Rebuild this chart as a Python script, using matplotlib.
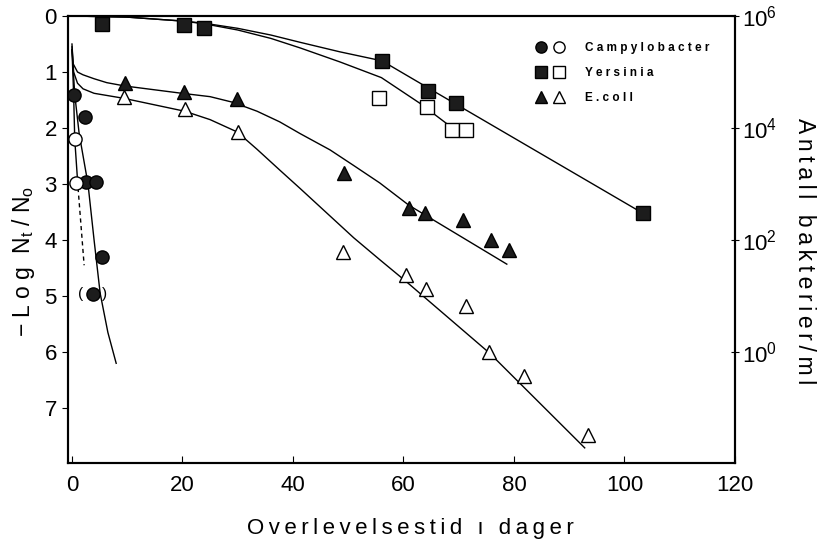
import matplotlib
matplotlib.use('Agg')
import matplotlib.pyplot as plt
from matplotlib.legend_handler import HandlerTuple

plt.rcParams['font.family'] = ['Liberation Sans', 'DejaVu Sans']
plt.rcParams['mathtext.fontset'] = 'custom'
plt.rcParams['mathtext.rm'] = 'Liberation Sans'
plt.rcParams['mathtext.it'] = 'Liberation Sans'

# values: x = days, y = -log Nt/N0
campy_fill_x = [0.4, 2.3, 2.5, 4.3, 5.4]
campy_fill_y = [1.41, 1.80, 2.96, 2.96, 4.30]
campy_paren_x = [3.8]
campy_paren_y = [4.97]
campy_open_x = [0.5, 0.7]
campy_open_y = [2.20, 2.98]
campy_fill_fit_x = [0, 0.5, 1.3, 2.9, 4.0, 5.1, 6.5, 8.0]
campy_fill_fit_y = [0.6, 1.4, 2.1, 3.0, 4.0, 4.95, 5.65, 6.2]
campy_open_fit_x = [0, 0.3, 0.5, 1.1]
campy_open_fit_y = [0.6, 1.4, 2.2, 3.07]
campy_dash_x = [1.1, 2.2]
campy_dash_y = [3.07, 4.45]

yers_fill_x = [5.4, 20.3, 23.9, 56.1, 64.4, 69.5, 103.3]
yers_fill_y = [0.14, 0.16, 0.21, 0.80, 1.34, 1.56, 3.52]
yers_open_x = [55.6, 64.3, 68.8, 71.3]
yers_open_y = [1.47, 1.62, 2.04, 2.04]
yers_fill_fit_x = [0, 10, 20, 24, 30, 36, 41.3, 48.5, 56.1, 64.4, 103.3]
yers_fill_fit_y = [0, 0.02, 0.09, 0.13, 0.22, 0.34, 0.47, 0.64, 0.80, 1.28, 3.52]
yers_open_fit_x = [0, 10, 20, 24, 30, 36, 41.3, 48.5, 56, 63, 67.8, 70.2]
yers_open_fit_y = [0, 0.02, 0.09, 0.14, 0.25, 0.40, 0.57, 0.82, 1.1, 1.56, 1.92, 2.0]

ecoli_fill_x = [9.6, 20.3, 29.9, 49.2, 61.0, 63.9, 70.8, 75.8, 79.1]
ecoli_fill_y = [1.19, 1.35, 1.49, 2.80, 3.42, 3.51, 3.64, 4.00, 4.17]
ecoli_open_x = [9.4, 20.4, 30.0, 49.1, 60.5, 64.1, 71.3, 75.5, 81.8, 93.4]
ecoli_open_y = [1.45, 1.66, 2.07, 4.22, 4.62, 4.88, 5.18, 6.00, 6.43, 7.48]
ecoli_fill_fit_x = [0, 0.2, 1, 2, 4, 6.3, 9.6, 19.5, 25, 29.1, 33.5, 37.6, 41.3,
                    46.7, 51, 55.7, 61, 78.7]
ecoli_fill_fit_y = [0.5, 0.85, 1.0, 1.05, 1.12, 1.19, 1.25, 1.375, 1.44, 1.54, 1.70,
                    1.89, 2.1, 2.39, 2.67, 2.98, 3.38, 4.43]
ecoli_open_fit_x = [0, 0.3, 1, 2, 4, 9.4, 20.4, 25, 29.9, 33.5, 37.6, 41.3, 46.7,
                    51, 55.7, 60.6, 75.6, 92.8]
ecoli_open_fit_y = [0.55, 1.0, 1.2, 1.3, 1.38, 1.47, 1.7, 1.85, 2.07, 2.38, 2.75,
                    3.08, 3.57, 3.96, 4.35, 4.75, 6.02, 7.71]

x_ticks = [0, 20, 40, 60, 80, 100, 120]
y_ticks = [0, 1, 2, 3, 4, 5, 6, 7]
right_exps = [6, 4, 2, 0]


def spaced(s, sep=' '):
    # the printed labels are letter-spaced
    return sep.join(s)


fig = plt.figure(figsize=(8.22, 5.44), dpi=100)
ax = fig.add_axes([68/822, 1-463/544, 667/822, 447/544])

lw = 1.0
k = 'black'
ax.plot(campy_fill_fit_x, campy_fill_fit_y, color=k, lw=lw)
ax.plot(campy_open_fit_x, campy_open_fit_y, color=k, lw=lw)
ax.plot(campy_dash_x, campy_dash_y, color=k, lw=lw, ls=(0, (3, 2.5)))
ax.plot(yers_fill_fit_x, yers_fill_fit_y, color=k, lw=lw)
ax.plot(yers_open_fit_x, yers_open_fit_y, color=k, lw=lw)
ax.plot(ecoli_fill_fit_x, ecoli_fill_fit_y, color=k, lw=lw)
ax.plot(ecoli_open_fit_x, ecoli_open_fit_y, color=k, lw=lw)

ms = 9.5
fill = dict(ls='none', color='#1c1c1c', mec=k, clip_on=False, zorder=3)
opn = dict(ls='none', mfc='white', mec=k, mew=1.0, clip_on=False, zorder=3)
h1, = ax.plot(campy_fill_x, campy_fill_y, 'o', ms=ms, **fill)
ax.plot(campy_paren_x, campy_paren_y, 'o', ms=ms, **fill)
h2, = ax.plot(campy_open_x, campy_open_y, 'o', ms=ms, **opn)
h3, = ax.plot(yers_fill_x, yers_fill_y, 's', ms=ms, **fill)
h4, = ax.plot(yers_open_x, yers_open_y, 's', ms=ms, **opn)
h5, = ax.plot(ecoli_fill_x, ecoli_fill_y, '^', ms=ms, **fill)
h6, = ax.plot(ecoli_open_x, ecoli_open_y, '^', ms=ms, **opn)

for px, py in zip(campy_paren_x, campy_paren_y):
    ax.annotate('(', (px, py), xytext=(-9, 0), textcoords='offset points',
                ha='center', va='center', fontsize=11)
    ax.annotate(')', (px, py), xytext=(8, 0), textcoords='offset points',
                ha='center', va='center', fontsize=11)

ax.legend([(h1, h2), (h3, h4), (h5, h6)],
          [spaced('Campylobacter'), spaced('Yersinia'), spaced('E.coll')],
          handler_map={tuple: HandlerTuple(ndivide=None, pad=0.3)},
          loc='upper left', bbox_to_anchor=(0.681, 0.965), frameon=False,
          prop={'weight': 'bold', 'size': 8.5}, handlelength=2.9,
          handletextpad=1.55, labelspacing=1.1, markerscale=0.85)

ax.set_xlim(-0.72, 120)
ax.set_ylim(7.98, 0)
ax.set_xticks(x_ticks)
ax.set_yticks(y_ticks)
ax.tick_params(axis='x', direction='in', length=5, pad=8.5, labelsize=16)
ax.tick_params(axis='y', direction='out', length=4, pad=4, labelsize=16)
for s in ax.spines.values():
    s.set_linewidth(1.5)

ax2 = ax.twinx()
ax2.set_ylim(7.98, 0)
ax2.set_yticks([6 - e for e in right_exps])
ax2.set_yticklabels(['$10^{%d}$' % e for e in right_exps])
ax2.tick_params(axis='y', direction='inout', length=6, pad=2, labelsize=16)
for s in ax2.spines.values():
    s.set_linewidth(1.5)

ax.set_xlabel(spaced('Overlevelsestid ı dager', '\u2009'), fontsize=16)
ax.xaxis.set_label_coords(0.514, -0.122)
ax.set_ylabel('− L o g  N$_t$ / N$_o$', fontsize=16.5)
ax.yaxis.set_label_coords(-0.046, 0.452)
ax2.set_ylabel(spaced('Antall bakterier/ml', '\u2009'), fontsize=16.5, rotation=-90)
ax2.yaxis.set_label_coords(1.121, 0.474)

fig.savefig('out.png', dpi=100)
